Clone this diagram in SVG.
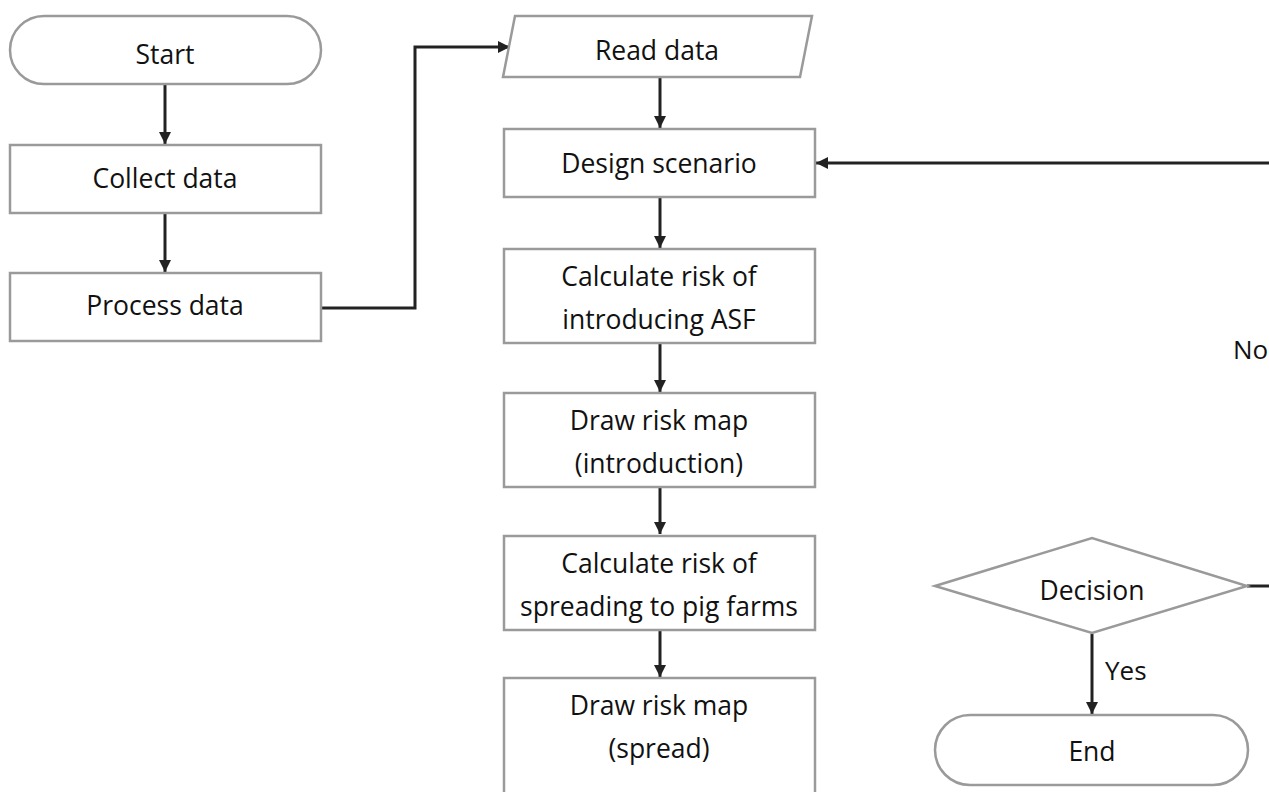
<svg xmlns="http://www.w3.org/2000/svg" width="1269" height="792" viewBox="0 0 1269 792">
  <style>
    .shape { fill: #ffffff; stroke: #9a9a9a; stroke-width: 2.5; }
    .label { font-family: "Open Sans", "Liberation Sans", sans-serif; font-size: 26.5px; fill: #111111; text-anchor: middle; }
    .note { font-family: "Open Sans", "Liberation Sans", sans-serif; font-size: 26px; fill: #111111; }
    .edge { fill: none; stroke: #222222; stroke-width: 3; }
    .arrow { stroke: #222222; stroke-width: 3; marker-end: url(#head); fill: none; }
  </style>
  <defs>
    <marker id="head" viewBox="0 0 10 10" refX="10" refY="5" markerWidth="4" markerHeight="4" markerUnits="strokeWidth" orient="auto">
      <path d="M0,0 L10,5 L0,10 z" fill="#222222"/>
    </marker>
  </defs>
  <rect width="1269" height="792" fill="#ffffff"/>

  <g id="connectors">
    <line class="arrow" x1="165" y1="85" x2="165" y2="144"/>
    <line class="arrow" x1="165" y1="213" x2="165" y2="272"/>
    <polyline class="arrow" points="321,308 415,308 415,47 510,47"/>
    <line class="arrow" x1="660" y1="78" x2="660" y2="128"/>
    <line class="arrow" x1="660" y1="197" x2="660" y2="248"/>
    <line class="arrow" x1="660" y1="343" x2="660" y2="392"/>
    <line class="arrow" x1="660" y1="487" x2="660" y2="534"/>
    <line class="arrow" x1="660" y1="630" x2="660" y2="677"/>
    <line class="arrow" x1="1269" y1="163" x2="816" y2="163"/>
    <line class="edge" x1="1247" y1="586" x2="1269" y2="586"/>
    <line class="arrow" x1="1092" y1="634" x2="1092" y2="714"/>
    <text class="note" x="1233" y="359">No</text>
    <text class="note" x="1105" y="680">Yes</text>
  </g>

  <g id="start">
    <rect class="shape" x="10" y="16" width="311" height="68" rx="34" ry="34"/>
    <text class="label" x="165" y="64">Start</text>
  </g>
  <g id="collect-data">
    <rect class="shape" x="10" y="145" width="311" height="68"/>
    <text class="label" x="165" y="188">Collect data</text>
  </g>
  <g id="process-data">
    <rect class="shape" x="10" y="273" width="311" height="68"/>
    <text class="label" x="165" y="315">Process data</text>
  </g>
  <g id="read-data">
    <polygon class="shape" points="515,16 812,16 800,77 503,77"/>
    <text class="label" x="657" y="60">Read data</text>
  </g>
  <g id="design-scenario">
    <rect class="shape" x="504" y="129" width="311" height="68"/>
    <text class="label" x="659" y="173">Design scenario</text>
  </g>
  <g id="calc-introduction">
    <rect class="shape" x="504" y="249" width="311" height="94"/>
    <text class="label" x="659" y="286">Calculate risk of</text>
    <text class="label" x="659" y="329">introducing ASF</text>
  </g>
  <g id="map-introduction">
    <rect class="shape" x="504" y="393" width="311" height="94"/>
    <text class="label" x="659" y="430">Draw risk map</text>
    <text class="label" x="659" y="473">(introduction)</text>
  </g>
  <g id="calc-spread">
    <rect class="shape" x="504" y="536" width="311" height="94"/>
    <text class="label" x="659" y="573">Calculate risk of</text>
    <text class="label" x="659" y="616">spreading to pig farms</text>
  </g>
  <g id="map-spread">
    <rect class="shape" x="504" y="678" width="311" height="130"/>
    <text class="label" x="659" y="715">Draw risk map</text>
    <text class="label" x="659" y="758">(spread)</text>
  </g>
  <g id="decision">
    <polygon class="shape" points="935,586 1092,538 1247,586 1092,633"/>
    <text class="label" x="1092" y="600">Decision</text>
  </g>
  <g id="end">
    <rect class="shape" x="935" y="715" width="313" height="70" rx="35" ry="35"/>
    <text class="label" x="1092" y="761">End</text>
  </g>
</svg>
